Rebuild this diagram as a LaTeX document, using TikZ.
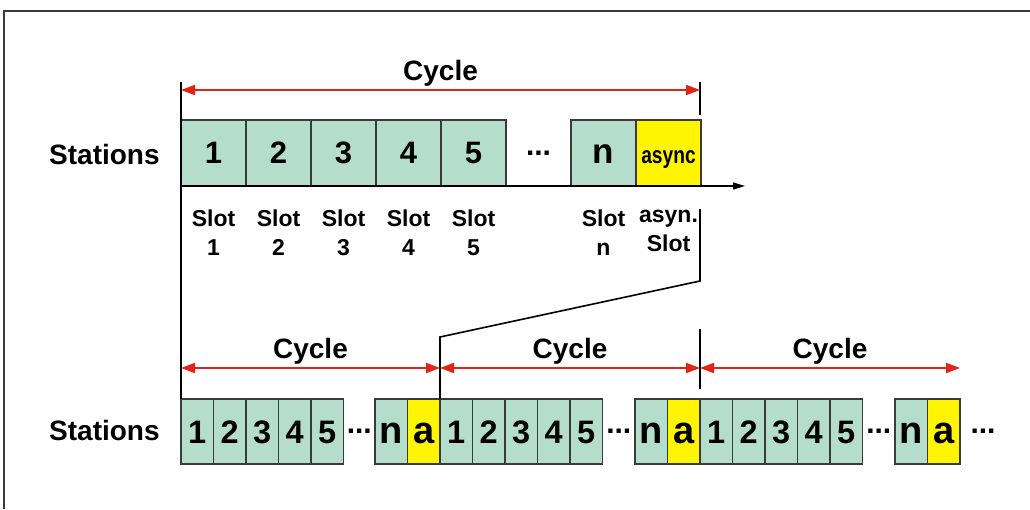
\documentclass[tikz,border=0pt]{standalone}
\usepackage{fontspec}
\setmainfont{Liberation Sans}
\newfontfamily\narrowsans[FakeStretch=0.8]{Liberation Sans}
\usetikzlibrary{arrows.meta}

\definecolor{slotgreen}{HTML}{B4DECB}
\definecolor{asyncyellow}{HTML}{FFF500}
\definecolor{cyclered}{HTML}{E2231A}
\definecolor{edgegray}{HTML}{3A3A3A}

\begin{document}
\begin{tikzpicture}[x=1pt,y=-1pt,
  font=\bfseries,
  % slot boxes of the single cycle (upper row)
  bigslot/.style={draw=edgegray, line width=1.2pt, fill=slotgreen,
    inner sep=0pt, outer sep=0pt, anchor=north west,
    minimum width=65pt, minimum height=66pt,
    text height=21pt, text depth=0pt,
    font=\bfseries\fontsize{31}{36}\selectfont},
  bigletter/.style={bigslot, font=\bfseries\fontsize{35}{40}\selectfont},
  bigasync/.style={bigslot, fill=asyncyellow,
    font=\narrowsans\bfseries\fontsize{24}{28}\selectfont},
  % slot boxes of the repeated cycles (lower row)
  smallslot/.style={draw=edgegray, line width=1.2pt, fill=slotgreen,
    inner sep=0pt, outer sep=0pt, anchor=north west,
    minimum width=32.5pt, minimum height=65pt,
    text height=23.6pt, text depth=0pt,
    font=\bfseries\fontsize{32.5}{36}\selectfont},
  smallletter/.style={smallslot,
    font=\bfseries\fontsize{38}{42}\selectfont},
  smallasync/.style={smallletter, fill=asyncyellow},
  rowlabel/.style={anchor=base west, inner sep=0pt,
    font=\bfseries\fontsize{28}{32}\selectfont},
  cyclelabel/.style={anchor=base, inner sep=0pt,
    font=\bfseries\fontsize{28}{32}\selectfont},
  slotlabel/.style={anchor=north, inner sep=0pt, align=center,
    font=\bfseries\fontsize{23}{29}\selectfont},
  dotslabel/.style={anchor=base, inner sep=0pt,
    font=\bfseries\fontsize{30}{32}\selectfont},
  cyclearrow/.style={draw=cyclered, line width=2pt,
    {Triangle[length=14pt,width=10pt]}-{Triangle[length=14pt,width=10pt]}},
  marker/.style={draw=black, line width=1.6pt},
]
\useasboundingbox (0,0) rectangle (1030,509);

% frame
\draw[edgegray, line width=1.6pt] (1030,11) -- (4,11) -- (4,509);

% ---------- upper row: one cycle ----------
\foreach \k in {1,...,5}
  \node[bigslot] (t\k) at ({181+65*(\k-1)},120) {\k};
\node[bigletter] (tn) at (571,120) {n};
\node[bigasync] (ta) at (636,120) {async};
\node[dotslabel] (tdots) at (538.5,155) {...};

\node[rowlabel] (st1) at (49,164) {Stations};

% time axis
\coordinate (axisend) at (745,186);
\draw[line width=1.2pt, -{Triangle[length=12pt,width=7pt]}] (t1.south west) -- (axisend);

% slot captions
\foreach \k in {1,...,5}
  \node[slotlabel] (sl\k) at (t\k.south |- 0,210) {Slot\\\k};
\node[slotlabel] (sln) at (tn.south |- 0,210) {Slot\\n};
\node[slotlabel] (sla) at (ta.south |- 0,210) {asyn.\\Slot};

% ---------- lower row: repeated cycles ----------
\foreach \c/\s/\e in {1/181/440, 2/440/700, 3/700/960} {
  \foreach \k in {1,...,5}
    \node[smallslot] (b\c-\k) at ({\s+32.5*(\k-1)},399) {\k};
  \node[smallletter] (b\c-n) at ({\e-65},399) {n};
  \node[smallasync] (b\c-a) at ({\e-32.5},399) {a};
  \node[dotslabel] (b\c-dots) at ({(\s+162.5+\e-65)/2},433) {...};
}
\node[dotslabel] (bdots) at (983,433) {...};

\node[rowlabel] (st2) at (49,440) {Stations};

% ---------- cycle boundaries ----------
\coordinate (ltop) at (181,82);
\coordinate (rtop) at (700,82);
\coordinate (rtick) at (700,115);
\coordinate (rdown) at (700,209);
\coordinate (rbend) at (700,281);
\coordinate (mbend) at (440,337);
\coordinate (c3top) at (700,329);
\coordinate (c3bot) at (700,389);

\draw[marker] (ltop) -- (b1-1.north west);
\draw[marker] (rtop) -- (rtick);
\draw[marker] (rdown) -- (rbend) -- (mbend) -- (b1-a.north east);
\draw[marker] (c3top) -- (c3bot);

% ---------- cycle arrows ----------
\coordinate (ca0) at (181,90);
\coordinate (ca1) at (700,90);
\draw[cyclearrow] (ca0) -- (ca1);
\node[cyclelabel] (cy0) at (440.5,80) {Cycle};

\coordinate (cb0) at (181,368);
\coordinate (cb1) at (440,368);
\coordinate (cb2) at (700,368);
\coordinate (cb3) at (960,368);
\draw[cyclearrow] (cb0) -- (cb1);
\draw[cyclearrow] (cb1) -- (cb2);
\draw[cyclearrow] (cb2) -- (cb3);
\node[cyclelabel] (cy1) at (310.5,358) {Cycle};
\node[cyclelabel] (cy2) at (570,358) {Cycle};
\node[cyclelabel] (cy3) at (830,358) {Cycle};
\end{tikzpicture}
\end{document}
